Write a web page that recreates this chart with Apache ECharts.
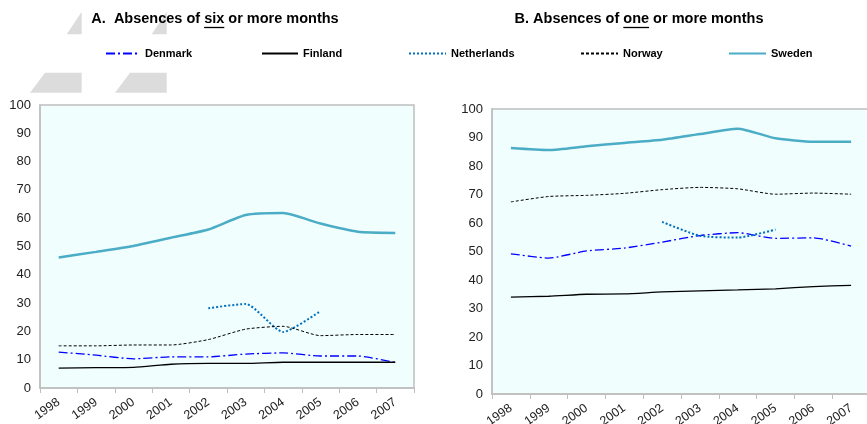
<!DOCTYPE html>
<html>
<head>
<meta charset="utf-8">
<script src="https://cdn.jsdelivr.net/npm/echarts@6/dist/echarts.min.js"></script>
<style>
html,body{margin:0;padding:0;background:#fff;}
#chart{width:867px;height:424px;}
</style>
</head>
<body>
<div id="chart"></div>
<script>
var years = ['1998','1999','2000','2001','2002','2003','2004','2005','2006','2007'];
var yTicks = [0,10,20,30,40,50,60,70,80,90,100];

// Panel A: absences of six or more months
var denmarkA     = [12.7, 11.6, 10.3, 11.0, 11.0, 12.0, 12.4, 11.3, 11.3, 9.0];
var finlandA     = [7.0, 7.2, 7.3, 8.4, 8.7, 8.7, 9.1, 9.1, 9.1, 9.1];
var netherlandsA = [null, null, null, null, 28.2, 29.7, 19.8, 27.2, null, null];
var norwayA      = [14.9, 14.9, 15.2, 15.2, 17.1, 20.8, 21.8, 18.5, 18.9, 18.9];
var swedenA      = [46.1, 48.1, 50.2, 53.1, 56.0, 61.1, 61.8, 58.1, 55.2, 54.8];

// Panel B: absences of one or more months
var denmarkB     = [49.2, 47.7, 50.2, 51.2, 53.3, 55.6, 56.6, 54.6, 54.8, 51.9];
var finlandB     = [34.0, 34.3, 35.0, 35.1, 35.8, 36.2, 36.5, 36.9, 37.7, 38.1];
var netherlandsB = [null, null, null, null, 60.4, 55.5, 54.9, 57.7, null, null];
var norwayB      = [67.4, 69.3, 69.7, 70.4, 71.7, 72.5, 72.0, 70.1, 70.5, 70.1];
var swedenB      = [86.3, 85.6, 86.9, 88.1, 89.2, 91.2, 93.1, 89.7, 88.5, 88.5];

var countries = ['Denmark','Finland','Netherlands','Norway','Sweden'];

var styles = {
  Denmark:     {color:'#0000FF', width:1.3, type:[9,3,2,3]},
  Finland:     {color:'#000000', width:1.3, type:'solid'},
  Netherlands: {color:'#0070C0', width:2,   type:[2,2]},
  Norway:      {color:'#000000', width:1,   type:[3,2]},
  Sweden:      {color:'#4BACC6', width:2.5, type:'solid'}
};

var dataA = {Denmark:denmarkA, Finland:finlandA, Netherlands:netherlandsA, Norway:norwayA, Sweden:swedenA};
var dataB = {Denmark:denmarkB, Finland:finlandB, Netherlands:netherlandsB, Norway:norwayB, Sweden:swedenB};

var chart = echarts.init(document.getElementById('chart'), null, {renderer:'canvas'});
var FONT = 'Liberation Sans, Arial, sans-serif';
var TITLE_FONT = 'bold 14.5px ' + FONT;

function makeSeries(name, data, idx){
  var s = styles[name];
  return {
    name: name, type:'line', xAxisIndex: idx, yAxisIndex: idx,
    data: data, symbol:'none', smooth:0.2, connectNulls:false,
    color: s.color,
    lineStyle: {color:s.color, width:s.width, type:s.type, cap:'butt'},
    emphasis:{disabled:true}, animation:false, z: name==='Sweden'?3:2
  };
}

var series = [];
countries.forEach(function(c){ series.push(makeSeries(c, dataA[c], 0)); });
countries.forEach(function(c){ series.push(makeSeries(c, dataB[c], 1)); });

var legendPos = {Denmark:[100,34], Finland:[256,36], Netherlands:[403,37], Norway:[575,37], Sweden:[723,37]};
var legends = countries.map(function(c){
  return {
    data:[c], left: legendPos[c][0], top: 43, itemWidth: legendPos[c][1], itemHeight: 10,
    selectedMode:false,
    itemStyle:{color:'transparent', borderColor:'transparent', borderWidth:0},
    textStyle:{fontFamily:FONT, fontSize:11, fontWeight:'bold', color:'#000'}
  };
});

function xAxis(idx){
  return {
    type:'category', gridIndex: idx, data: years, boundaryGap:true,
    axisLine:{show:true, lineStyle:{color:'#BFBFBF', width:1.5}},
    axisTick:{show:true, length:5, lineStyle:{color:'#BFBFBF'}},
    axisLabel:{rotate:35, fontFamily:FONT, fontSize:12.5, color:'#222', margin:13}
  };
}
function yAxis(idx){
  return {
    type:'value', gridIndex: idx, min:0, max:100, interval:10,
    axisLine:{show:true, lineStyle:{color:'#BFBFBF', width:1.5}},
    axisTick:{show:false},
    splitLine:{show:false},
    axisLabel:{fontFamily:FONT, fontSize:13, color:'#222', margin:9}
  };
}

// title texts with underlined word, measured for underline placement
var measureCtx = document.createElement('canvas').getContext('2d');
measureCtx.font = TITLE_FONT;
function titleGraphics(cx, pre, word, post){
  var full = pre + word + post;
  var w = measureCtx.measureText(full).width;
  var x0 = cx - w / 2 + measureCtx.measureText(pre).width;
  var ww = measureCtx.measureText(word).width;
  return [
    {type:'text', x:cx, y:19, style:{text:full, font:TITLE_FONT, fill:'#000', align:'center', verticalAlign:'middle'}, z:10},
    {type:'line', shape:{x1:x0, y1:27.5, x2:x0+ww, y2:27.5}, style:{stroke:'#000', lineWidth:1.3}, z:10}
  ];
}

var wm = '#DCDCDC';
var graphics = [
  {type:'polygon', shape:{points:[[81.7,11.7],[81.7,34.3],[66.7,34.3]]}, style:{fill:wm}, z:-10},
  {type:'polygon', shape:{points:[[166.7,11.7],[166.7,34.3],[151.7,34.3]]}, style:{fill:wm}, z:-10},
  {type:'polygon', shape:{points:[[45,72.7],[81.7,72.7],[81.7,92.7],[30,92.7]]}, style:{fill:wm}, z:-10},
  {type:'polygon', shape:{points:[[130,72.7],[166.7,72.7],[166.7,92.7],[115,92.7]]}, style:{fill:wm}, z:-10}
].concat(
  titleGraphics(215, 'A.  Absences of ', 'six', ' or more months'),
  titleGraphics(639, 'B. Absences of ', 'one', ' or more months')
);

chart.setOption({
  animation:false,
  backgroundColor:'#fff',
  legend: legends,
  grid:[
    {left:40, top:105, right:453, bottom:36, show:true, backgroundColor:'#F1FEFE', borderColor:'#BFBFBF', borderWidth:1.5, containLabel:false, outerBoundsMode:'none'},
    {left:492, top:109, right:-3, bottom:30, show:true, backgroundColor:'#F1FEFE', borderColor:'#BFBFBF', borderWidth:1.5, containLabel:false, outerBoundsMode:'none'}
  ],
  xAxis:[xAxis(0), xAxis(1)],
  yAxis:[yAxis(0), yAxis(1)],
  graphic: graphics,
  series: series
});
</script>
</body>
</html>
